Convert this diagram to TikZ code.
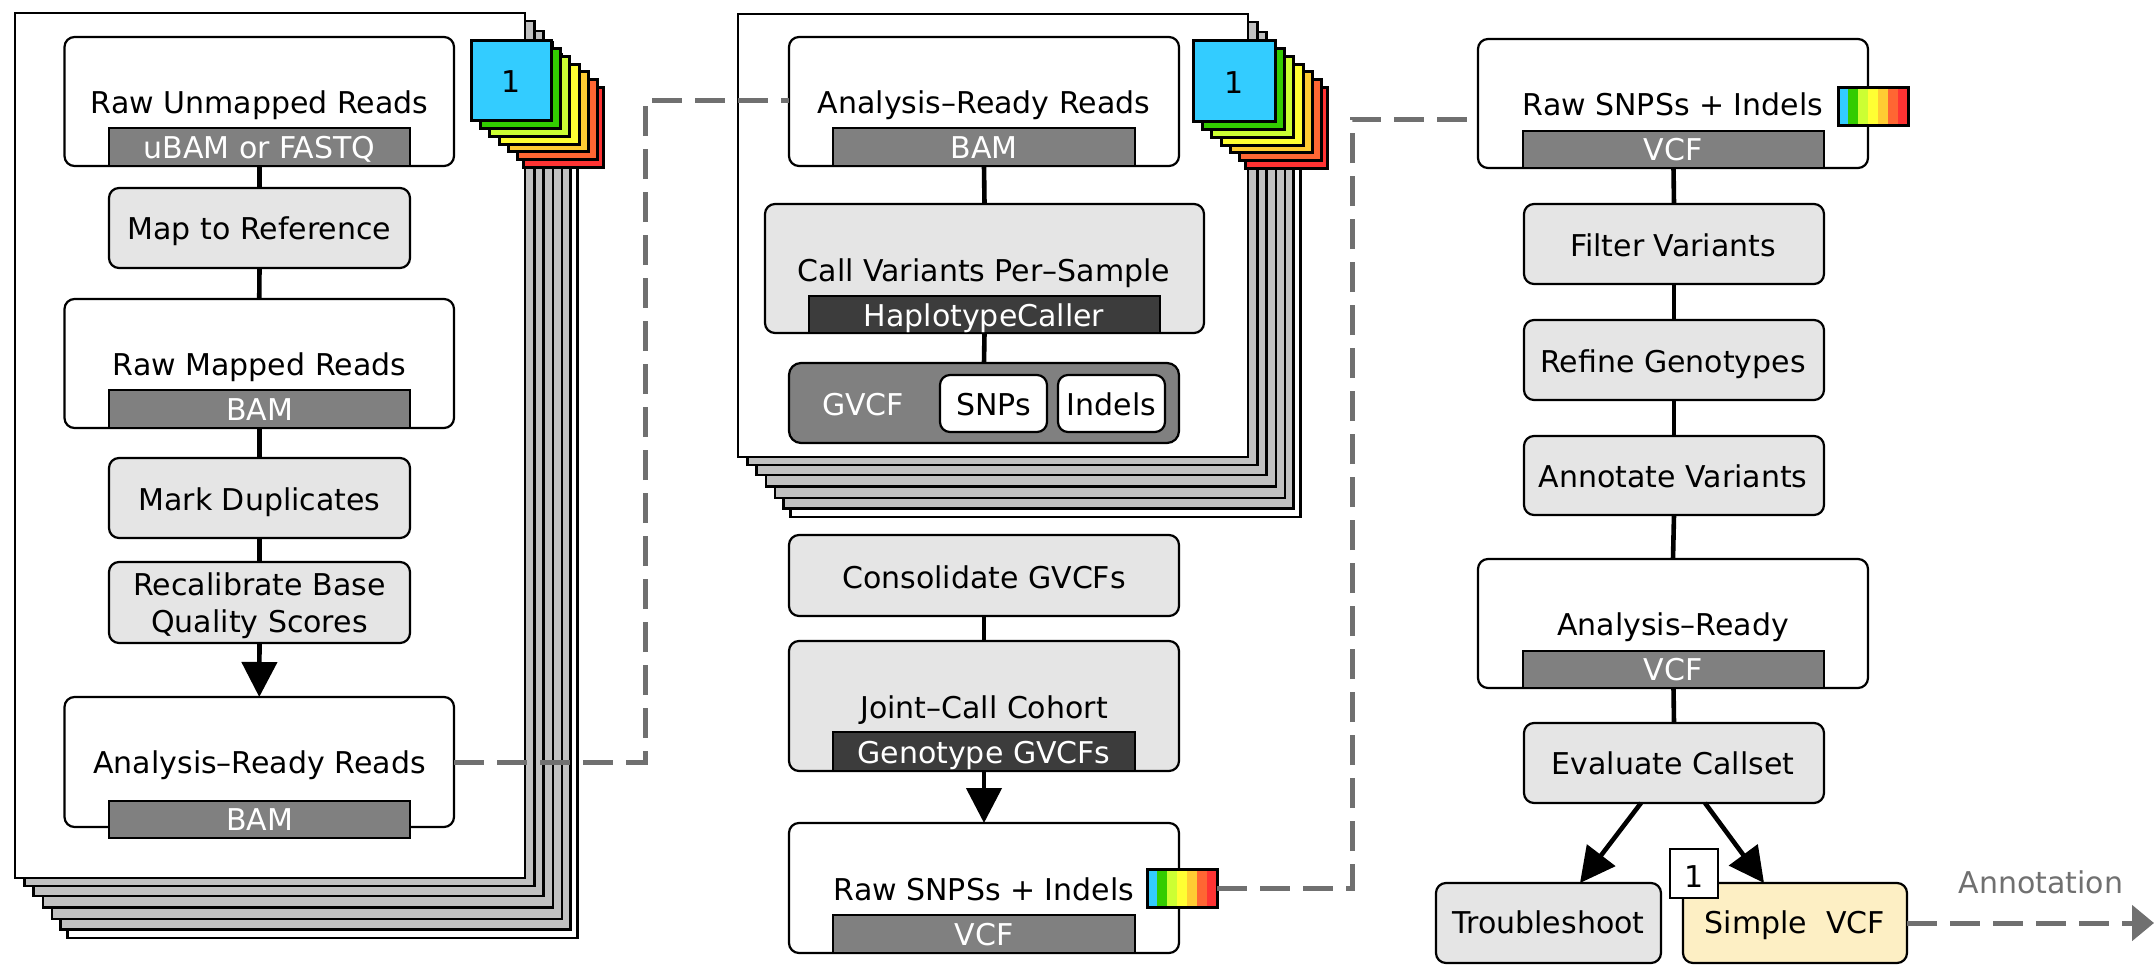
\documentclass[tikz,border=0pt]{standalone}
\usepackage{fontspec}
\setmainfont{DejaVu Sans}
\usetikzlibrary{arrows.meta,calc,fit}
\definecolor{boxgray}{HTML}{E5E5E5}
\definecolor{bargray}{HTML}{808080}
\definecolor{bardark}{HTML}{3C3C3C}
\definecolor{pagegray}{HTML}{C0C0C0}
\definecolor{dashgray}{HTML}{707070}
\definecolor{cBlue}{HTML}{33CCFF}
\definecolor{cGreen}{HTML}{33CC00}
\definecolor{cLime}{HTML}{CCFF33}
\definecolor{cYellow}{HTML}{FFFF33}
\definecolor{cOrange}{HTML}{FFCC33}
\definecolor{cRedOr}{HTML}{FF6633}
\definecolor{cRed}{HTML}{FF3333}
\definecolor{simpleY}{HTML}{FDEFC4}
\begin{document}
\begin{tikzpicture}[x=0.5pt,y=-0.5pt,
  fitbox/.style={inner sep=0pt,outer sep=0pt,line width=1.1pt},
  wbox/.style={fitbox,draw,fill=white,rounded corners=5pt},
  gbox/.style={fitbox,draw,fill=boxgray,rounded corners=5pt},
  barbox/.style={fitbox,draw,fill=bargray},
  dbarbox/.style={fitbox,draw,fill=bardark},
  pagebox/.style={fitbox,draw},
  sqbox/.style={fitbox,draw,line width=1.5pt},
  lbl/.style={anchor=base,inner sep=0pt,font=\fontsize{15pt}{18pt}\selectfont},
  wlbl/.style={lbl,text=white},
  link/.style={line width=2.3pt},
  arr/.style={link,-{Triangle[width=17.5pt,length=17.5pt]}},
  dlink/.style={line width=2.5pt,dashgray,dash pattern=on 15pt off 6.5pt}
]
\useasboundingbox (0,0) rectangle (2154,969);

% ---------------- LEFT PANEL ----------------
\foreach \i/\dx/\dy/\c in {6/52.5/60/white,5/45.5/51.5/pagegray,4/37/41/pagegray,3/28/29.5/pagegray,2/18.5/18/pagegray,1/9.5/8/pagegray}
  \node[pagebox,fill=\c] (pgL\i) [fit={({15+\dx},{13+\dy})({525+\dx},{878+\dy})}] {};
\node[pagebox,fill=white] (pgL0) [fit={(15,13)(525,878)}] {};
\foreach \i/\dx/\dy/\c in {6/52/47/cRed,5/46/39/cRedOr,4/37/31/cOrange,3/28/24/cYellow,2/18/16/cLime,1/9/8/cGreen}
  \node[sqbox,fill=\c] (sqL\i) [fit={({471+\dx},{40+\dy})({551+\dx},{120+\dy})}] {};
\node[sqbox,fill=cBlue] (sqL0) [fit={(471,40)(551,120)}] {};
\node[lbl] (oneL) at (511,92) {1};

\node[wbox] (rur) [fit={(64.5,37)(454,166)}] {};
\node[barbox] (rurbar) [fit={(109,128)(410,166)}] {};
\node[lbl] (rurT) at (259.5,113) {Raw Unmapped Reads};
\node[wlbl] (rurbT) at (259.5,158) {uBAM or FASTQ};

\node[gbox] (map) [fit={(109,188)(410,268)}] {};
\node[lbl] (mapT) at (259.5,239) {Map to Reference};

\node[wbox] (rmr) [fit={(64.5,299)(454,428)}] {};
\node[barbox] (rmrbar) [fit={(109,390)(410,428)}] {};
\node[lbl] (rmrT) at (259.5,375) {Raw Mapped Reads};
\node[wlbl] (rmrbT) at (259.5,420) {BAM};

\node[gbox] (mdup) [fit={(109,458)(410,538)}] {};
\node[lbl] (mdupT) at (259.5,510) {Mark Duplicates};

\node[gbox] (bqsr) [fit={(109,562)(410,643)}] {};
\node[lbl] (bqsrTa) at (259.5,595) {Recalibrate Base};
\node[lbl] (bqsrTb) at (259.5,632) {Quality Scores};

\node[wbox] (arL) [fit={(64.5,697)(454,827)}] {};
\node[barbox] (arLbar) [fit={(109,801)(410,838)}] {};
\node[lbl] (arLT) at (259.5,773) {Analysis–Ready Reads};
\node[wlbl] (arLbT) at (259.5,830) {BAM};

\draw[link] (rurbar.south) -- (map.north);
\draw[link] (map.south) -- (rmr.north);
\draw[link] (rmrbar.south) -- (mdup.north);
\draw[link] (mdup.south) -- (bqsr.north);
\draw[arr] (bqsr.south) -- (arL.north);

% ---------------- MIDDLE PANEL ----------------
\foreach \i/\dx/\dy/\c in {6/52.5/60/white,5/45.5/51.5/pagegray,4/37/41/pagegray,3/28/29.5/pagegray,2/18.5/18/pagegray,1/9.5/8/pagegray}
  \node[pagebox,fill=\c] (pgM\i) [fit={({738+\dx},{14+\dy})({1248+\dx},{457+\dy})}] {};
\node[pagebox,fill=white] (pgM0) [fit={(738,14)(1248,457)}] {};
\foreach \i/\dx/\dy/\c in {6/52/47/cRed,5/46/39/cRedOr,4/37/31/cOrange,3/28/24/cYellow,2/18/16/cLime,1/9/8/cGreen}
  \node[sqbox,fill=\c] (sqM\i) [fit={({1193+\dx},{40+\dy})({1275+\dx},{121+\dy})}] {};
\node[sqbox,fill=cBlue] (sqM0) [fit={(1193,40)(1275,121)}] {};
\node[lbl] (oneM) at (1234,93) {1};

\node[wbox] (arM) [fit={(789,37)(1179,166)}] {};
\node[barbox] (arMbar) [fit={(833,128)(1135,166)}] {};
\node[lbl] (arMT) at (984,113) {Analysis–Ready Reads};
\node[wlbl] (arMbT) at (984,158) {BAM};

\node[gbox] (hc) [fit={(765,204)(1204,333)}] {};
\node[dbarbox] (hcbar) [fit={(809,296)(1160,333)}] {};
\node[lbl] (hcT) at (984,281) {Call Variants Per–Sample};
\node[wlbl] (hcbT) at (984,326) {HaplotypeCaller};

\node[fitbox,draw,fill=bargray,rounded corners=6pt] (gvcf) [fit={(789,363)(1179,443)}] {};
\node[wlbl] (gvcfT) at (863,415) {GVCF};
\node[wbox] (snp) [fit={(940,375)(1047,432)}] {};
\node[lbl] (snpT) at (993.5,415) {SNPs};
\node[wbox] (indel) [fit={(1058,375)(1165,432)}] {};
\node[lbl] (indelT) at (1111.5,415) {Indels};

\draw[link] (arMbar.south) -- (hc.north);
\draw[link] (hcbar.south) -- (gvcf.north);

\node[gbox] (cons) [fit={(789,535)(1179,616)}] {};
\node[lbl] (consT) at (984,588) {Consolidate GVCFs};

\node[gbox] (jc) [fit={(789,641)(1179,771)}] {};
\node[dbarbox] (jcbar) [fit={(833,732)(1135,771)}] {};
\node[lbl] (jcT) at (984,718) {Joint–Call Cohort};
\node[wlbl] (jcbT) at (984,763) {Genotype GVCFs};

\node[wbox] (rsM) [fit={(789,823)(1179,953)}] {};
\node[barbox] (rsMbar) [fit={(833,915)(1135,953)}] {};
\node[lbl] (rsMT) at (984,900) {Raw SNPSs + Indels};
\node[wlbl] (rsMbT) at (984,945) {VCF};
\foreach \k/\c in {0/cBlue,1/cGreen,2/cLime,3/cYellow,4/cOrange,5/cRedOr,6/cRed}
  \fill[\c] ({1147+10*\k},869) rectangle ({1157+10*\k},907);
\node[fitbox,draw,line width=1.5pt] (rbM) [fit={(1147,869)(1217,907)}] {};

\draw[link] (cons.south) -- (jc.north);
\draw[arr] (jcbar.south) -- (rsM.north);

% ---------------- RIGHT PANEL ----------------
\node[wbox] (rsR) [fit={(1478,39)(1868,168)}] {};
\node[barbox] (rsRbar) [fit={(1523,131)(1824,168)}] {};
\node[lbl] (rsRT) at (1673,115) {Raw SNPSs + Indels};
\node[wlbl] (rsRbT) at (1673,160) {VCF};
\foreach \k/\c in {0/cBlue,1/cGreen,2/cLime,3/cYellow,4/cOrange,5/cRedOr,6/cRed}
  \fill[\c] ({1838+10*\k},87) rectangle ({1848+10*\k},125);
\node[fitbox,draw,line width=1.5pt] (rbR) [fit={(1838,87)(1908,125)}] {};

\node[gbox] (filt) [fit={(1524,204)(1824,284)}] {};
\node[lbl] (filtT) at (1673,256) {Filter Variants};
\node[gbox] (refine) [fit={(1524,320)(1824,400)}] {};
\node[lbl] (refineT) at (1673,372) {Refine Genotypes};
\node[gbox] (annot) [fit={(1524,436)(1824,515)}] {};
\node[lbl] (annotT) at (1673,487) {Annotate Variants};

\node[wbox] (arR) [fit={(1478,559)(1868,688)}] {};
\node[barbox] (arRbar) [fit={(1523,651)(1824,688)}] {};
\node[lbl] (arRT) at (1673,635) {Analysis–Ready};
\node[wlbl] (arRbT) at (1673,680) {VCF};

\node[gbox] (eval) [fit={(1524,723)(1824,803)}] {};
\node[lbl] (evalT) at (1673,774) {Evaluate Callset};

\node[gbox] (trouble) [fit={(1436,883)(1661,963)}] {};
\node[lbl] (troubleT) at (1548.5,933) {Troubleshoot};
\node[fitbox,draw,fill=simpleY,rounded corners=5pt] (simple) [fit={(1683,883)(1907,963)}] {};
\node[lbl] (simpleT) at (1795,933) {Simple\ \ VCF};
\node[fitbox,draw,fill=white] (oneS) [fit={(1670,849)(1718,898)}] {};
\node[lbl] (oneST) at (1694,887) {1};

\draw[link] (rsRbar.south) -- (filt.north);
\draw[link] (filt.south) -- (refine.north);
\draw[link] (refine.south) -- (annot.north);
\draw[link] (annot.south) -- (arR.north);
\draw[link] (arRbar.south) -- (eval.north);
\draw[arr] ($(eval.south)+(-33,0)$) -- ($(trouble.north)+(31.5,0)$);
\draw[arr] ($(eval.south)+(31,0)$) -- ($(simple.north)+(-31,0)$);

% ---------------- DASHED LINKS ----------------
\coordinate (d1) at (645,100);
\draw[dlink] (arL.east) -- (arL.east -| d1) -- (d1) -- (arM.west |- d1);
\coordinate (d2) at (1352,119);
\draw[dlink] (rbM.east) -- (rbM.east -| d2) -- (d2) -- (rsR.west |- d2);
\coordinate (annEnd) at (2154,923);
\draw[dlink,-{Triangle[width=17.5pt,length=11pt]}] (simple.east) -- (annEnd);
\node[lbl,text=dashgray] (annT) at (2041,893) {Annotation};
\end{tikzpicture}
\end{document}
